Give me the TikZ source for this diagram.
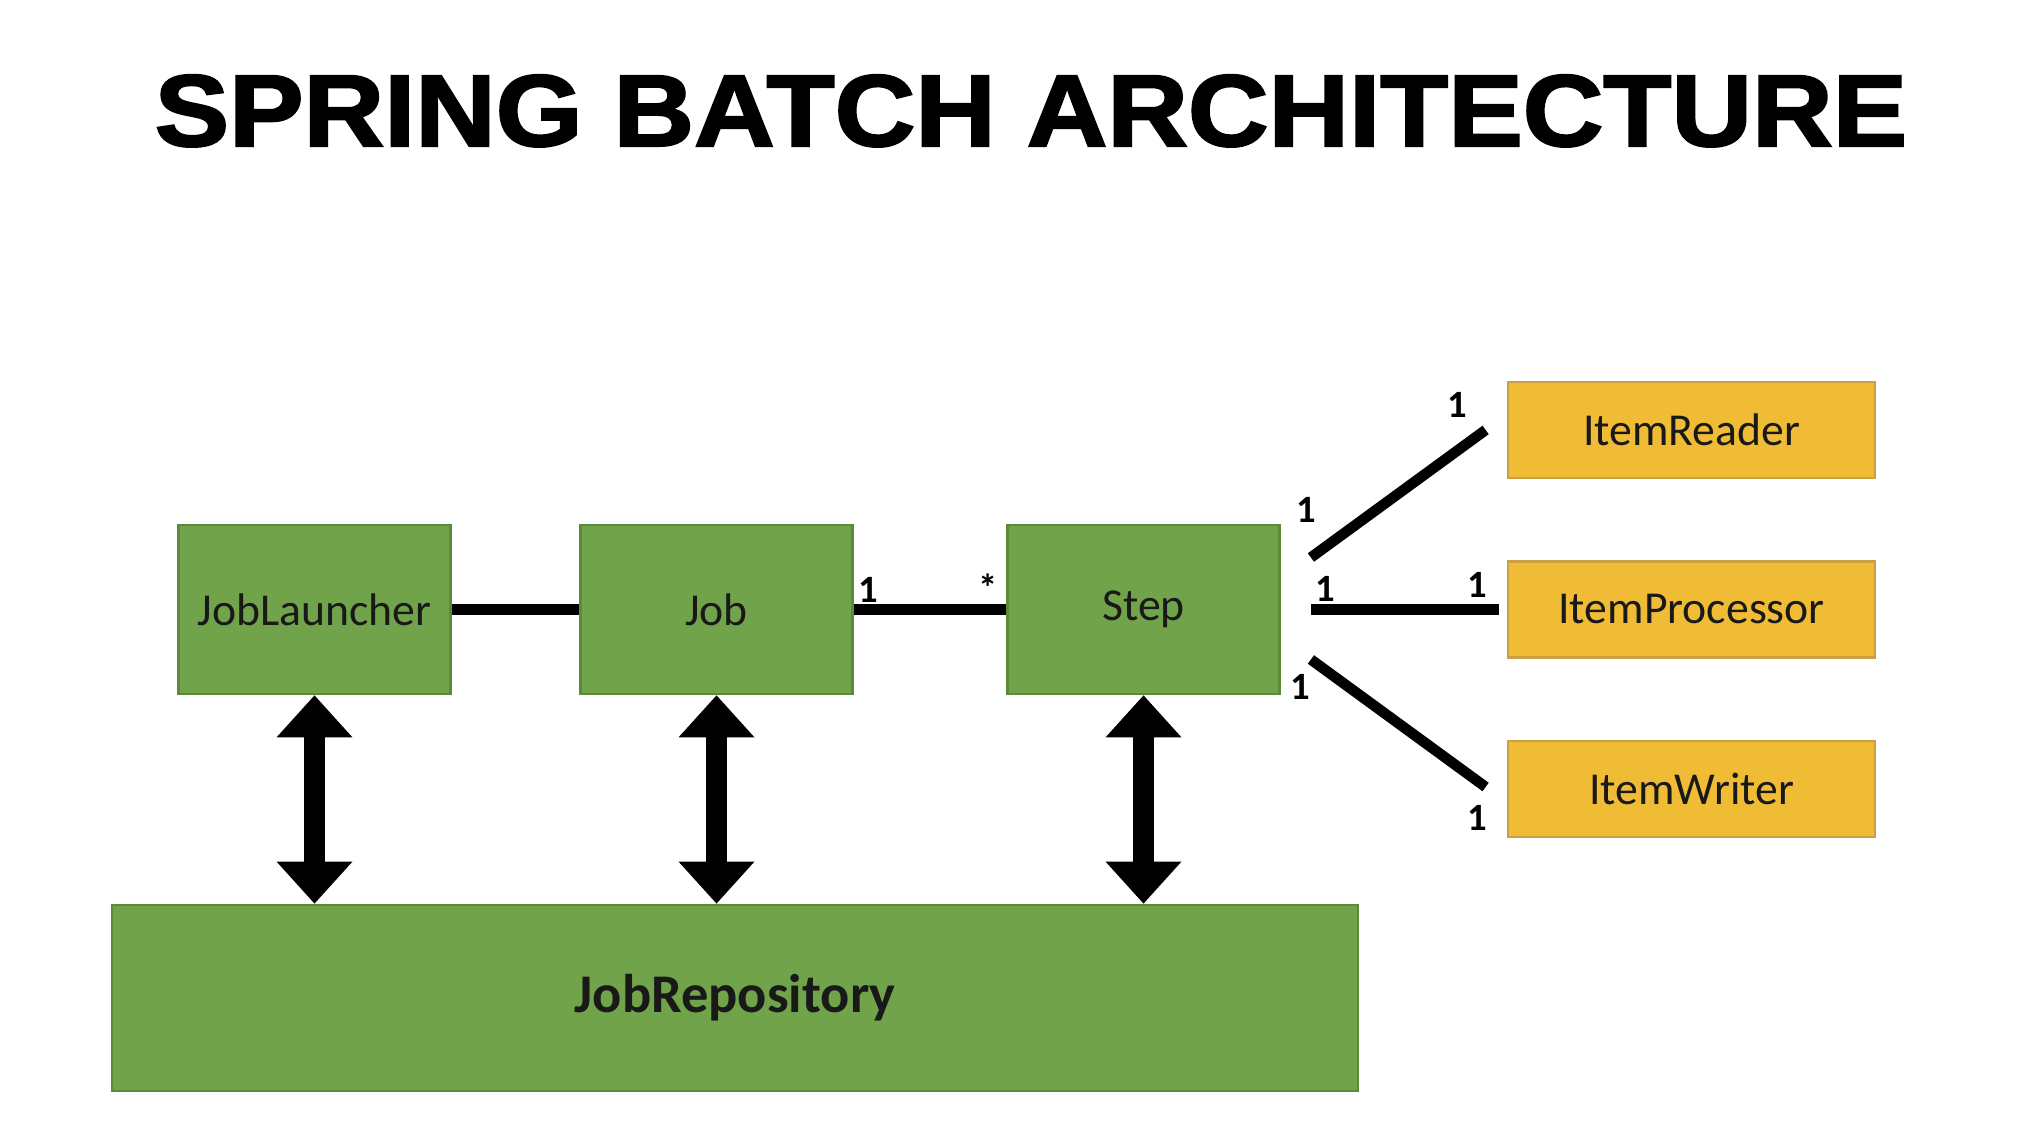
\documentclass[tikz,border=0pt]{standalone}
\usepackage{fontspec}
\usepackage{graphicx}
\setmainfont{Carlito}
\newfontfamily\titlefont[BoldFeatures={FakeBold=2}]{Liberation Sans}
\usepackage{tikz}
\usetikzlibrary{arrows.meta}

\definecolor{boxgreen}{HTML}{71A34A}
\definecolor{edgegreen}{HTML}{5B8A3C}
\definecolor{boxgold}{HTML}{F0BC36}
\definecolor{edgegold}{HTML}{C9A043}

\begin{document}
\begin{tikzpicture}[
    every node/.style={font=\fontsize{13}{16}\selectfont, text=black!90},
    part/.style={draw=edgegreen, fill=boxgreen, line width=0.8pt, minimum width=2.72cm, minimum height=1.69cm, align=center},
    item/.style={draw=edgegold, fill=boxgold, line width=0.8pt, minimum width=3.67cm, minimum height=0.96cm, align=center},
    mult/.style={font=\bfseries\fontsize{11}{13}\selectfont, text=black, inner sep=0pt, anchor=center},
    link/.style={line width=3pt},
    dbl/.style={line width=0.21cm, {Triangle[width=0.76cm, length=0.42cm, line width=0pt]}-{Triangle[width=0.76cm, length=0.42cm, line width=0pt]}}
]
\useasboundingbox (0,0) rectangle (20.42,11.44);
\node[anchor=base, text=black, font=\titlefont\bfseries\fontsize{29}{34}\selectfont] (title) at (10.31,9.98) {\scalebox{1.095}[1]{SPRING BATCH ARCHITECTURE}};
\node[part] (launcher) at (3.145,5.345) {JobLauncher};
\node[part] (job) at (7.165,5.345) {Job};
\node[part] (step) at (11.435,5.345) {Step};
\node[part, minimum width=12.46cm, minimum height=1.86cm, font=\bfseries\fontsize{15.5}{18}\selectfont] (repo) at (7.35,1.46) {JobRepository};
\node[item] (reader) at (16.915,7.14) {ItemReader};
\node[item] (proc) at (16.915,5.345) {ItemProcessor};
\node[item] (writer) at (16.915,3.55) {ItemWriter};
% loose ends of the slanted links
\coordinate (rdA) at ([shift={(0.3cm,0.52cm)}]step.east);
\coordinate (rdB) at ([xshift=-0.21cm]reader.west);
\coordinate (wrA) at ([shift={(0.3cm,-0.5cm)}]step.east);
\coordinate (wrB) at ([shift={(-0.21cm,0.02cm)}]writer.west);
\draw[link] (launcher) -- (job);
\draw[link] (job) -- node[mult, pos=0, shift={(0.14cm,0.2cm)}]{1} node[mult, pos=1, shift={(-0.18cm,0.22cm)}]{*} (step);
\draw[link, shorten <=0.3cm, shorten >=0.08cm] (step) -- node[mult, pos=0, shift={(0.44cm,0.21cm)}]{1} node[mult, pos=1, shift={(-0.29cm,0.25cm)}]{1} (proc);
\draw[link] (rdA) -- node[mult, pos=0, shift={(-0.05cm,0.48cm)}]{1} node[mult, pos=1, shift={(-0.28cm,0.25cm)}]{1} (rdB);
\draw[link] (wrA) -- node[mult, pos=0, shift={(-0.11cm,-0.27cm)}]{1} node[mult, pos=1, shift={(-0.08cm,-0.31cm)}]{1} (wrB);
\draw[dbl] (launcher) -- (launcher |- repo.north);
\draw[dbl] (job) -- (job |- repo.north);
\draw[dbl] (step) -- (step |- repo.north);
\end{tikzpicture}
\end{document}
